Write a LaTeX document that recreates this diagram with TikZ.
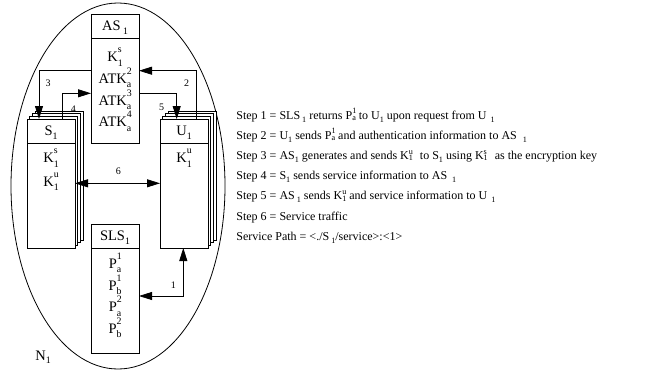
\documentclass[tikz,border=0pt]{standalone}
\usepackage{fontspec}
\setmainfont{Liberation Serif}
\usetikzlibrary{arrows.meta}
\makeatletter
% reduced size for indices, relative to the current font
\newcommand\subfs{\fontsize{\fpeval{0.68*\f@size}}{\fpeval{0.68*\f@size}}\selectfont}
\makeatother
% lowered index
\newcommand\lo[1]{\raisebox{-0.25em}{\subfs #1}}
% stacked upper/lower index inside the boxes
\newcommand\ud[2]{\rlap{\raisebox{0.62em}{\subfs #1}}\raisebox{-0.3em}{\subfs #2}}
% stacked upper/lower index in the step list
\newcommand\tud[2]{\rlap{\raisebox{0.45em}{\subfs #1}}\raisebox{-0.12em}{\subfs #2}}
\begin{document}
\begin{tikzpicture}[x=1pt,y=-1pt,line width=0.8pt,
  box/.style={draw,fill=white,minimum width=48pt,inner sep=0pt,outer sep=0pt,anchor=north west},
  big/.style={font=\fontsize{14.5}{14.5}\selectfont,inner sep=0pt,anchor=base},
  lbl/.style={font=\fontsize{10}{10}\selectfont,inner sep=0pt},
  steptext/.style={font=\fontsize{12}{12}\selectfont,inner sep=0pt,anchor=base west},
  arr/.style={-{Triangle[length=13pt,width=8pt]}},
  arrs/.style={{Triangle[length=13pt,width=8pt]}-{Triangle[length=13pt,width=8pt]}}]
\useasboundingbox (0,0) rectangle (647,370);

% network boundary
\draw (118,186) ellipse [x radius=107, y radius=183];
\node[big,anchor=base west] (n1) at (35,360) {N\lo{1}};

% authentication server
\node[box,minimum height=24pt] (ashead) at (91,14) {};
\node[box,minimum height=105pt] (asbody) at (91,38) {};
\node[big] (astitle) at (115,30.6) {AS\,\lo{1}};
\node[big] (asks) at (115,61.7) {K\ud{s}{1}};
\node[big] (asatk2) at (115,83.4) {ATK\ud{2}{a}};
\node[big] (asatk3) at (115,105.1) {ATK\ud{3}{a}};
\node[big] (asatk4) at (115,126.8) {ATK\ud{4}{a}};

% service stack
\foreach \k in {3,2,1}
  \draw[fill=white] (27+2.7*\k,119-2.7*\k) rectangle ++(48,129);
\node[box,minimum height=24pt] (s1head) at (27,119) {};
\node[box,minimum height=105pt] (s1body) at (27,143) {};
\node[big] (s1title) at (51,135.6) {S\lo{1}};
\node[big] (s1ks) at (51,162.7) {K\ud{s}{1}};
\node[big] (s1ku) at (51,186) {K\ud{u}{1}};

% user stack
\foreach \k in {3,2,1}
  \draw[fill=white] (160+2.7*\k,119-2.7*\k) rectangle ++(48,129);
\node[box,minimum height=24pt] (u1head) at (160,119) {};
\node[box,minimum height=105pt] (u1body) at (160,143) {};
\node[big] (u1title) at (184,135.6) {U\lo{1}};
\node[big] (u1ku) at (184,162.7) {K\ud{u}{1}};

% service location server
\node[box,minimum height=24pt] (slshead) at (91,224) {};
\node[box,minimum height=105pt] (slsbody) at (91,248) {};
\node[big] (slstitle) at (115,240.6) {SLS\lo{1}};
\node[big] (slsp1a) at (115,268.3) {P\ud{1}{a}};
\node[big] (slsp1b) at (115,290) {P\ud{1}{b}};
\node[big] (slsp2a) at (115,311.7) {P\ud{2}{a}};
\node[big] (slsp2b) at (115,333.4) {P\ud{2}{b}};

% bends of the message paths
\coordinate (c1) at (183.3,296);
\coordinate (c2) at (196.7,70.7);
\coordinate (c3) at (39,70.7);
\coordinate (c4) at (62.3,93.3);
\coordinate (c5) at (176.7,93.3);
\coordinate (c6) at (118,183.3);

\draw[arrs] (slsbody.east |- c1) -| (c1 |- u1body.south);
\draw[arr] (c2 |- u1head.north) |- (asbody.east |- c2);
\draw[arr] (asbody.west |- c3) -| (c3 |- s1head.north);
\draw[arr] (c4 |- s1head.north) |- (asbody.west |- c4);
\draw[arr] (asbody.east |- c5) -| (c5 |- u1head.north);
\draw[arrs] (s1body.east |- c6) -- (u1body.west |- c6);

\node[lbl] (l1) at (173.3,285) {1};
\node[lbl] (l2) at (186.7,83.3) {2};
\node[lbl] (l3) at (48,83) {3};
\node[lbl] (l4) at (73.3,109.3) {4};
\node[lbl] (l5) at (161.7,107.7) {5};
\node[lbl] (l6) at (118.3,171.7) {6};

% step list
\node[steptext] (st1) at (236,119) {Step 1 = SLS\,\lo{1} returns P\tud{1}{a} to U\lo{1} upon request from U\,\,\lo{1}};
\node[steptext] (st2) at (236,139.2) {Step 2 = U\lo{1} sends P\tud{1}{a} and authentication information to AS\hspace{6pt}\lo{1}};
\node[steptext] (st3) at (236,159.4) {Step 3 = AS\lo{1} generates and sends K\tud{u}{1}\,\, to S\lo{1} using K\tud{s}{1}\,\, as the encryption key};
\node[steptext] (st4) at (236,179.6) {Step 4 = S\lo{1} sends service information to AS\hspace{5pt}\lo{1}};
\node[steptext] (st5) at (236,199.8) {Step 5 = AS\,\lo{1} sends K\tud{u}{1} and service information to U\hspace{4pt}\lo{1}};
\node[steptext] (st6) at (236,220) {Step 6 = Service traffic};
\node[steptext] (st7) at (236,240.2) {Service Path = <./S\,\lo{1}/service>:<1>};
\end{tikzpicture}
\end{document}
